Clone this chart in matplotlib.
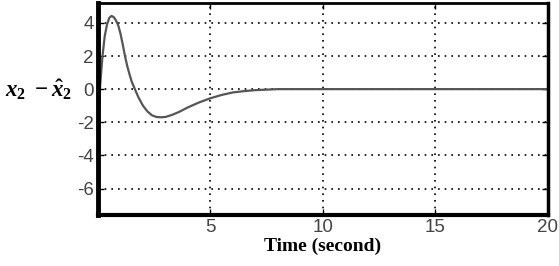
import matplotlib
matplotlib.use("Agg")
import matplotlib.pyplot as plt

plt.rcParams['axes.unicode_minus'] = False
plt.rcParams['mathtext.fontset'] = 'custom'
plt.rcParams['mathtext.rm'] = 'Liberation Serif:bold'
plt.rcParams['mathtext.it'] = 'Liberation Serif:italic:bold'

# estimation error x2 - x2hat
time_s = [0, 0.1, 0.2, 0.3, 0.4, 0.5, 0.6, 0.7, 0.8, 0.9, 1.0, 1.1, 1.2, 1.3,
          1.4, 1.5, 1.64, 1.8, 2.0, 2.2, 2.4, 2.6, 2.8, 3.0, 3.3, 3.6, 4.0,
          4.5, 5.0, 5.5, 6.0, 6.5, 7.0, 7.5, 8.0, 9.0, 20.0]
error = [-2.6, 0.3, 2.0, 3.2, 3.9, 4.3, 4.42, 4.35, 4.15, 3.85, 3.35, 2.7, 2.0,
         1.4, 0.9, 0.45, 0.0, -0.5, -1.0, -1.35, -1.58, -1.68, -1.7, -1.68,
         -1.55, -1.38, -1.1, -0.8, -0.55, -0.35, -0.2, -0.12, -0.06, -0.03,
         0.0, 0.0, 0.0]
x_ticks = [5, 10, 15, 20]
y_ticks = [4, 2, 0, -2, -4, -6]

fig = plt.figure(figsize=(5.59, 2.66), dpi=100)
ax = fig.add_axes([0.1753, 0.1917, 0.8047, 0.797])

ax.plot(time_s, error, color='#555555', lw=1.6)

ax.set_xlim(0, 20)
ax.set_ylim(-7.6, 5.2)
ax.set_xticks(x_ticks)
ax.set_yticks(y_ticks)
ax.tick_params(direction='in', length=4, width=1, labelsize=13.5,
               labelcolor='#444444', right=True, top=True, pad=3)
for lab in ax.get_xticklabels() + ax.get_yticklabels():
    lab.set_family('Liberation Sans')

ax.grid(True, color='black', linestyle=(0, (1, 3)), lw=1.2)

for side, w in [('left', 3.5), ('bottom', 3.0), ('top', 2.0), ('right', 2.5)]:
    ax.spines[side].set_linewidth(w)

ax.set_xlabel('Time (second)', family='Liberation Serif', fontweight='bold',
              fontsize=14, labelpad=1)
fig.text(5 / 559, 1 - 90 / 266, r'$x_2\ -\hat{x}_2$', fontsize=16.5,
         ha='left', va='center')

fig.savefig('out.png', dpi=100)
